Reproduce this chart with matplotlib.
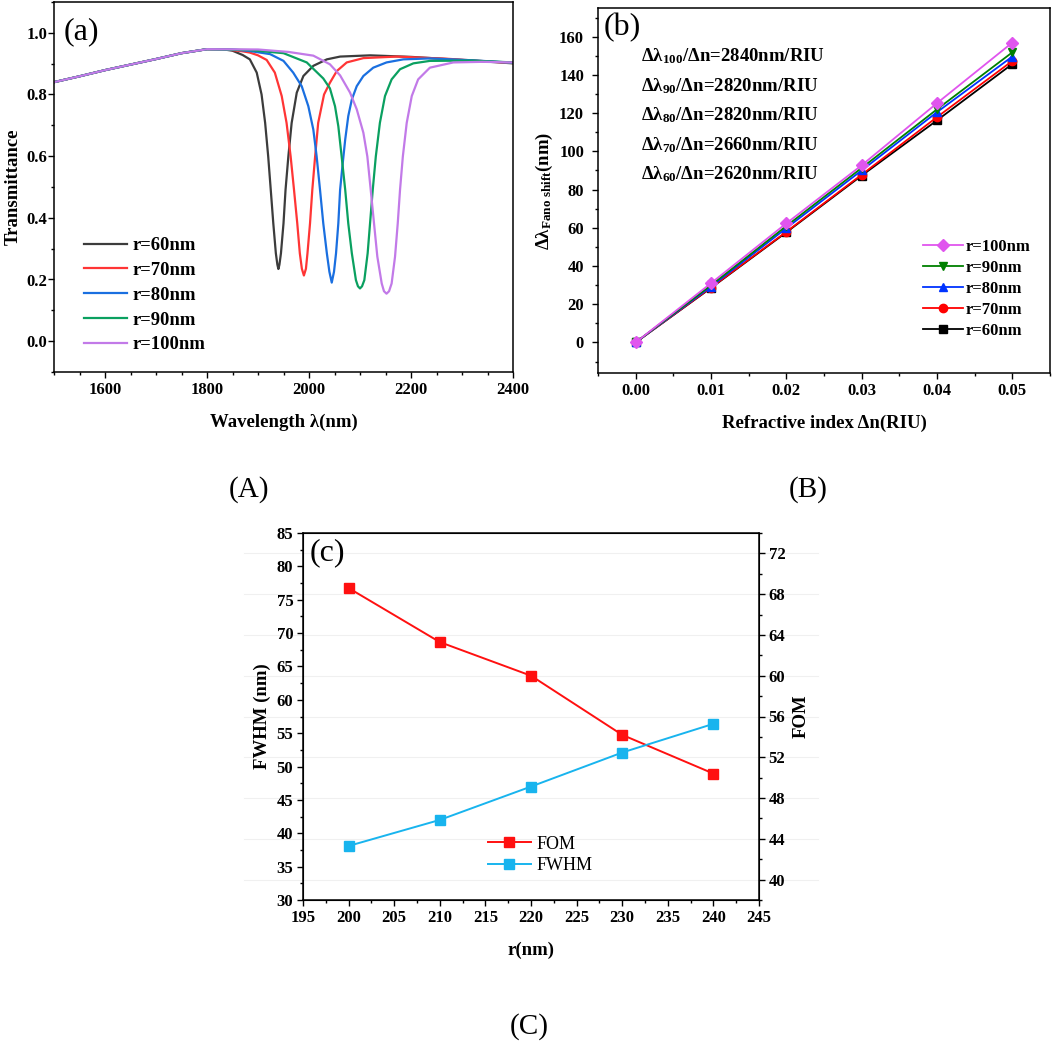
import matplotlib
matplotlib.use("Agg")
import matplotlib.pyplot as plt
from matplotlib.ticker import MultipleLocator

plt.rcParams["font.family"] = ["Liberation Serif", "DejaVu Serif"]
plt.rcParams["font.weight"] = "bold"
plt.rcParams["mathtext.fontset"] = "custom"
plt.rcParams["mathtext.rm"] = "Liberation Serif:bold"
plt.rcParams["mathtext.it"] = "Liberation Serif:bold"
plt.rcParams["mathtext.bf"] = "Liberation Serif:bold"
plt.rcParams["mathtext.default"] = "rm"

# ---- panel (a): transmittance spectra ----
base_wl = [1500, 1550, 1600, 1650, 1700, 1750, 1800]
base_t = [0.840, 0.859, 0.879, 0.897, 0.915, 0.934, 0.947]

wl_60 = base_wl + [1830, 1850, 1870, 1884, 1897.5, 1907, 1914, 1920, 1925, 1930, 1935,
                   1938, 1940, 1942, 1945, 1950, 1954, 1959.5, 1966, 1976, 1989,
                   2008.5, 2035, 2061, 2120, 2200, 2300, 2400]
t_60 = base_t + [0.947, 0.942, 0.928, 0.914, 0.871, 0.800, 0.708, 0.599, 0.491, 0.382,
                 0.285, 0.248, 0.234, 0.248, 0.285, 0.382, 0.491, 0.599, 0.708, 0.806,
                 0.860, 0.893, 0.914, 0.923, 0.927, 0.922, 0.912, 0.901]

wl_70 = base_wl + [1840, 1870, 1884, 1900, 1917, 1933, 1946.5, 1956, 1964, 1970.6, 1977,
                   1982, 1986, 1990, 1994, 1997, 2002, 2006.5, 2012, 2018, 2029.5,
                   2041, 2054.5, 2074, 2106.6, 2172, 2270, 2400]
t_70 = base_t + [0.946, 0.940, 0.936, 0.927, 0.912, 0.871, 0.795, 0.708, 0.599, 0.491,
                 0.382, 0.285, 0.235, 0.213, 0.235, 0.285, 0.382, 0.491, 0.599, 0.708,
                 0.800, 0.838, 0.876, 0.904, 0.918, 0.923, 0.916, 0.902]

wl_80 = base_wl + [1850, 1884, 1923.6, 1950, 1969, 1985.7, 1998.7, 2008.5, 2015, 2021.6,
                   2028, 2035, 2040, 2044.6, 2049, 2053, 2057.5, 2061, 2066, 2071, 2077,
                   2084, 2093.6, 2106.6, 2126, 2152, 2185, 2237, 2320, 2400]
t_80 = base_t + [0.946, 0.941, 0.931, 0.909, 0.871, 0.827, 0.762, 0.686, 0.599, 0.491,
                 0.382, 0.285, 0.225, 0.190, 0.225, 0.285, 0.382, 0.491, 0.575, 0.654,
                 0.730, 0.784, 0.827, 0.860, 0.887, 0.904, 0.914, 0.917, 0.911, 0.903]

wl_90 = base_wl + [1884, 1950, 1995.6, 2028, 2041, 2051, 2057.5, 2064, 2071, 2077, 2084,
                   2092, 2096, 2100, 2104, 2108.5, 2115, 2119.7, 2125, 2131, 2139, 2149,
                   2162, 2178.5, 2204.6, 2237, 2320, 2400]
t_90 = base_t + [0.944, 0.934, 0.904, 0.852, 0.820, 0.762, 0.697, 0.599, 0.491, 0.382,
                 0.285, 0.198, 0.178, 0.171, 0.178, 0.198, 0.285, 0.382, 0.491, 0.599,
                 0.708, 0.795, 0.849, 0.882, 0.901, 0.909, 0.910, 0.904]

wl_100 = base_wl + [1900, 1960, 2008.5, 2041, 2061, 2080.5, 2093.6, 2106.6, 2114.4, 2121,
                    2127.5, 2134, 2142.6, 2147, 2152, 2157, 2162, 2168.7, 2174, 2178.5,
                    2184, 2191.6, 2201.5, 2214, 2237, 2283, 2340, 2400]
t_100 = base_t + [0.946, 0.938, 0.926, 0.898, 0.862, 0.806, 0.752, 0.676, 0.599, 0.491,
                  0.382, 0.274, 0.187, 0.162, 0.154, 0.162, 0.187, 0.274, 0.382, 0.491,
                  0.599, 0.708, 0.795, 0.849, 0.887, 0.904, 0.906, 0.904]

spectra = [
    ("r=60nm", wl_60, t_60, "#3c3c3c"),
    ("r=70nm", wl_70, t_70, "#ff3535"),
    ("r=80nm", wl_80, t_80, "#1a6fe0"),
    ("r=90nm", wl_90, t_90, "#0aa060"),
    ("r=100nm", wl_100, t_100, "#c27ae8"),
]

# ---- panel (b): resonance shift vs refractive index change ----
dn = [0.00, 0.01, 0.02, 0.03, 0.04, 0.05]
shift_60 = [0, 28.5, 57.6, 87.3, 116.2, 145.7]
shift_70 = [0, 28.7, 57.9, 87.8, 117.9, 147.3]
shift_80 = [0, 29.2, 59.8, 90.0, 120.5, 149.6]
shift_90 = [0, 29.9, 60.9, 91.3, 122.0, 151.8]
shift_100 = [0, 31.0, 62.3, 92.7, 125.2, 156.9]
sens_text = [
    r"Δλ$_{100}$/Δn=2840nm/RIU",
    r"Δλ$_{90}$/Δn=2820nm/RIU",
    r"Δλ$_{80}$/Δn=2820nm/RIU",
    r"Δλ$_{70}$/Δn=2660nm/RIU",
    r"Δλ$_{60}$/Δn=2620nm/RIU",
]
shifts = [
    ("r=60nm", shift_60, "black", "s"),
    ("r=70nm", shift_70, "#ff0000", "o"),
    ("r=80nm", shift_80, "#0033ff", "^"),
    ("r=90nm", shift_90, "#008000", "v"),
    ("r=100nm", shift_100, "#e055ee", "D"),
]

# ---- panel (c): FWHM and FOM vs radius ----
radius = [200, 210, 220, 230, 240]
fom = [68.6, 63.3, 60.0, 54.2, 50.4]
fwhm = [38.1, 42.0, 47.0, 52.1, 56.4]

W, H = 1052, 1045
fig = plt.figure(figsize=(W / 100, H / 100), dpi=100)


def frame(l, t, r, b):
    return [l / W, 1 - b / H, (r - l) / W, (b - t) / H]


def style(ax, size=12, ypad=3.5):
    ax.tick_params(which="both", direction="out", top=False, right=False,
                   labelsize=size, width=1.0)
    ax.tick_params(which="major", length=4)
    ax.tick_params(which="minor", length=2.5)
    ax.tick_params(axis="y", pad=ypad)
    for s in ax.spines.values():
        s.set_linewidth(1.1)


# (a)
ax1 = fig.add_axes(frame(54, 2, 513, 372))
for label, x, y, c in spectra:
    ax1.plot(x, y, color=c, lw=1.6, label=label)
ax1.set_xlim(1500, 2400)
ax1.set_ylim(-0.1, 1.1)
ax1.xaxis.set_major_locator(MultipleLocator(200))
ax1.xaxis.set_minor_locator(MultipleLocator(50))
ax1.yaxis.set_major_locator(MultipleLocator(0.2))
ax1.yaxis.set_minor_locator(MultipleLocator(0.1))
ax1.yaxis.set_major_formatter(lambda v, p: f"{v:.1f}")
style(ax1, ypad=1)
ax1.set_xlabel("Wavelength λ(nm)", fontsize=13.5, fontweight="bold", labelpad=11)
ax1.set_ylabel("Transmittance", fontsize=13.5, fontweight="bold", labelpad=3)
ax1.text(0.02, 0.92, "(a)", transform=ax1.transAxes, fontsize=23,
         fontweight="normal", va="center")
ax1.legend(loc="upper left", bbox_to_anchor=(0.045, 0.39), frameon=False,
           fontsize=13.4, handlelength=2.3, handletextpad=0.3, labelspacing=0.42,
           borderpad=0)

# (b)
ax2 = fig.add_axes(frame(598, 8, 1050, 373))
for label, y, c, m in shifts:
    ax2.plot(dn, y, color=c, lw=1.3, marker=m, ms=6, label=label)
ax2.set_xlim(-0.005, 0.055)
ax2.set_ylim(-16, 175)
ax2.xaxis.set_major_locator(MultipleLocator(0.01))
ax2.xaxis.set_minor_locator(MultipleLocator(0.005))
ax2.xaxis.set_major_formatter(lambda v, p: f"{v:.2f}")
ax2.yaxis.set_major_locator(MultipleLocator(20))
ax2.yaxis.set_minor_locator(MultipleLocator(10))
style(ax2, ypad=6)
ax2.set_xlabel("Refractive index Δn(RIU)", fontsize=13.5, fontweight="bold",
               labelpad=11)
ax2.set_ylabel(r"Δλ$_{\mathrm{Fano\ shift}}$(nm)", fontsize=13.5, fontweight="bold",
               labelpad=3)
ax2.text(0.013, 0.945, "(b)", transform=ax2.transAxes, fontsize=23,
         fontweight="normal", va="center")
for i, s in enumerate(sens_text):
    ax2.text(0.095, 0.868 - i * 0.081, s, transform=ax2.transAxes, fontsize=13.5,
             fontweight="bold", va="center")
h, l = ax2.get_legend_handles_labels()
ax2.legend(h[::-1], l[::-1], loc="upper left", bbox_to_anchor=(0.70, 0.39),
           frameon=False, fontsize=12, handlelength=2.4, handletextpad=0.15,
           labelspacing=0.3, borderpad=0)

# (c)
ax3 = fig.add_axes(frame(303, 533, 759, 900))
ax4 = ax3.twinx()
ln_fwhm, = ax3.plot(radius, fwhm, color="#18b4ee", lw=1.4, marker="s", ms=6.5,
                    label="FWHM")
ln_fom, = ax4.plot(radius, fom, color="#ff1010", lw=1.4, marker="s", ms=6.5,
                   label="FOM")
ax3.set_xlim(195, 245)
ax3.set_ylim(30, 85)
ax4.set_ylim(38, 74)
ax3.xaxis.set_major_locator(MultipleLocator(5))
ax3.xaxis.set_minor_locator(MultipleLocator(2.5))
ax3.yaxis.set_major_locator(MultipleLocator(5))
ax3.yaxis.set_minor_locator(MultipleLocator(2.5))
ax4.yaxis.set_major_locator(MultipleLocator(4))
ax4.yaxis.set_minor_locator(MultipleLocator(2))
style(ax3, ypad=3)
ax4.tick_params(which="both", direction="out", labelsize=12, width=1.0, pad=3)
ax4.tick_params(which="major", length=4)
ax4.tick_params(which="minor", length=2.5)
for v in range(40, 73, 4):
    ax4.axhline(v, xmin=-0.13, xmax=1.13, color="#f0f0f0", lw=0.8, zorder=0,
                clip_on=False)
ax3.set_zorder(ax4.get_zorder() + 1)
ax3.patch.set_visible(False)
ax3.set_xlabel("r(nm)", fontsize=13.5, fontweight="bold", labelpad=11)
ax3.set_ylabel("FWHM (nm)", fontsize=13.5, fontweight="bold", labelpad=4)
ax4.set_ylabel("FOM", fontsize=13.5, fontweight="bold", labelpad=5)
ax3.text(0.015, 0.945, "(c)", transform=ax3.transAxes, fontsize=23,
         fontweight="normal", va="center")
ax3.legend([ln_fom, ln_fwhm], ["FOM", "FWHM"], loc="upper left",
           bbox_to_anchor=(0.385, 0.20), frameon=False,
           prop={"size": 13, "weight": "normal"}, handlelength=2.4,
           handletextpad=0.3, labelspacing=0.25, borderpad=0)

fig.text(249 / W, 1 - 490 / H, "(A)", fontsize=21, fontweight="normal",
         ha="center", va="center")
fig.text(808 / W, 1 - 490 / H, "(B)", fontsize=21, fontweight="normal",
         ha="center", va="center")
fig.text(529 / W, 1 - 1027 / H, "(C)", fontsize=21, fontweight="normal",
         ha="center", va="center")

fig.savefig("out.png", dpi=100)
